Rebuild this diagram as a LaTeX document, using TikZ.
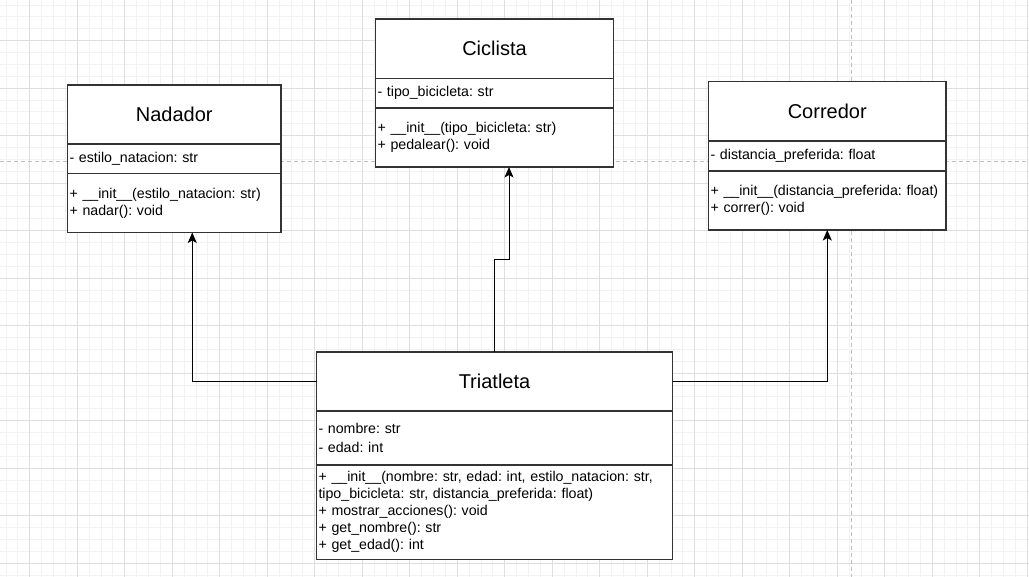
\documentclass[tikz,border=0pt]{standalone}
\usepackage{fontspec}
\setmainfont{Liberation Sans}
\usetikzlibrary{arrows.meta,
                positioning}
\frenchspacing

\begin{document}
\begin{tikzpicture}[x=1pt, y=-1pt,
    minor/.style={draw=black!5, line width=0.8pt},
    major/.style={draw=black!13, line width=0.8pt},
    page/.style={draw=black!25, line width=0.8pt, dash pattern=on 4pt off 3pt},
    ClassTitle/.style={draw=black!80, line width=1.2pt, fill=white, outer sep=0pt, inner sep=0pt,
                       font=\fontsize{20}{24}\selectfont},
    Members/.style={draw=black!80, line width=1.2pt, fill=white, outer sep=0pt,
                    inner xsep=2pt, inner ysep=0pt, align=left,
                    font=\fontsize{14.2}{17}\selectfont},
    Inherit/.style={draw=black, line width=1pt, -{Stealth[length=10.5pt, width=9pt, inset=2.5pt]}}
    ]

    \useasboundingbox (0,0) rectangle (1029,577);
    \fill[white] (0,0) rectangle (1029,577);

    %grid
    \foreach \i in {0,...,86} \draw[minor] ({6+11.875*\i},0) -- ({6+11.875*\i},577);
    \foreach \i in {0,...,48} \draw[minor] (0,{5+11.875*\i}) -- (1029,{5+11.875*\i});
    \foreach \i in {0,...,21} \draw[major] ({29.75+47.5*\i},0) -- ({29.75+47.5*\i},577);
    \foreach \i in {0,...,11} \draw[major] (0,{40.6+47.5*\i}) -- (1029,{40.6+47.5*\i});
    \draw[page] (0,161) -- (1029,161);
    \draw[page] (851,0) -- (851,577);

    %Nadador
    \node[ClassTitle, anchor=north west, minimum width=213.5pt, minimum height=59pt]
        at (67.5,85) (NadadorT) {Nadador};
    \node[Members, below right=0pt and 0pt of NadadorT.south west, text width=209.5pt, minimum height=29.5pt]
        (NadadorA) {- estilo\_natacion: str};
    \node[Members, below right=0pt and 0pt of NadadorA.south west, text width=209.5pt, minimum height=59pt]
        (NadadorM) {+ \_\_init\_\_(estilo\_natacion: str)\\+ nadar(): void};

    %Ciclista
    \node[ClassTitle, anchor=north west, minimum width=238pt, minimum height=59.5pt]
        at (375.5,19) (CiclistaT) {Ciclista};
    \node[Members, below right=0pt and 0pt of CiclistaT.south west, text width=234pt, minimum height=29.5pt]
        (CiclistaA) {- tipo\_bicicleta: str};
    \node[Members, below right=0pt and 0pt of CiclistaA.south west, text width=234pt, minimum height=59pt]
        (CiclistaM) {+ \_\_init\_\_(tipo\_bicicleta: str)\\+ pedalear(): void};

    %Corredor
    \node[ClassTitle, anchor=north west, minimum width=237.5pt, minimum height=59.5pt]
        at (708.5,81.5) (CorredorT) {Corredor};
    \node[Members, below right=0pt and 0pt of CorredorT.south west, text width=233.5pt, minimum height=30pt]
        (CorredorA) {- distancia\_preferida: float};
    \node[Members, below right=0pt and 0pt of CorredorA.south west, text width=233.5pt, minimum height=59pt]
        (CorredorM) {+ \_\_init\_\_(distancia\_preferida: float)\\+ correr(): void};

    %Triatleta
    \node[ClassTitle, anchor=north west, minimum width=356pt, minimum height=59pt]
        at (316.5,352) (TriatletaT) {Triatleta};
    \node[Members, below right=0pt and 0pt of TriatletaT.south west, text width=352pt, minimum height=54pt]
        (TriatletaA) {- nombre: str\\[2.3pt]- edad: int};
    \node[Members, below right=0pt and 0pt of TriatletaA.south west, text width=352pt, minimum height=94.5pt]
        (TriatletaM) {+ \_\_init\_\_(nombre: str, edad: int, estilo\_natacion: str,\\
                      tipo\_bicicleta: str, distancia\_preferida: float)\\
                      + mostrar\_acciones(): void\\
                      + get\_nombre(): str\\
                      + get\_edad(): int};

    %inheritance arrows
    \coordinate (bend) at (494.5,259.3);
    \draw[Inherit] (TriatletaT.west) -| ([xshift=18pt]NadadorM.south);
    \draw[Inherit] (TriatletaT.east) -| (CorredorM.south);
    \draw[Inherit] (TriatletaT.north) -- (TriatletaT.north |- bend) -| ([xshift=14.5pt]CiclistaM.south);
\end{tikzpicture}
\end{document}
